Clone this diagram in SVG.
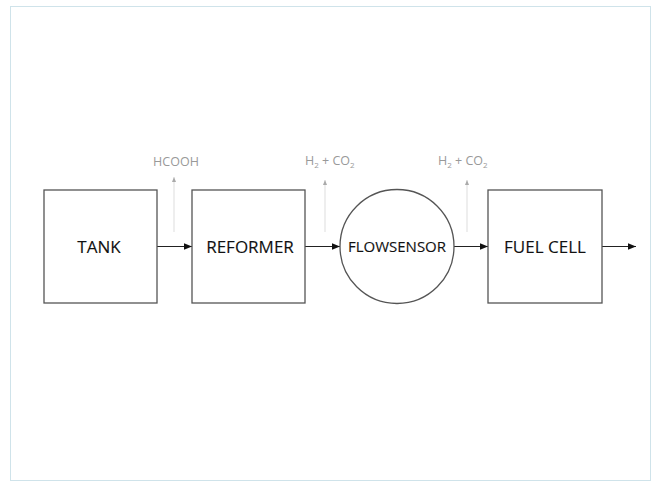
<svg xmlns="http://www.w3.org/2000/svg" width="655" height="485" viewBox="0 0 655 485">
<defs>
<style>
.box{fill:#fff;stroke:#555;stroke-width:1.3}
.lbl{font-family:"Open Sans","Liberation Sans",sans-serif;font-size:17px;fill:#111;stroke:#111;stroke-width:0.12;text-anchor:middle}
.gas{font-family:"Open Sans","Liberation Sans",sans-serif;font-size:12.5px;fill:#999}
.flow{stroke:#222;stroke-width:1.2;fill:none;marker-end:url(#ah)}
.out{stroke:#ddd;stroke-width:1;fill:none;marker-end:url(#ahg)}
</style>
<marker id="ah" viewBox="0 0 10 10" refX="10" refY="5" markerWidth="8" markerHeight="8" markerUnits="userSpaceOnUse" orient="auto">
<path d="M0,1 L10,5 L0,9 z" fill="#111"/>
</marker>
<marker id="ahg" viewBox="0 0 10 10" refX="10" refY="5" markerWidth="5" markerHeight="5" markerUnits="userSpaceOnUse" orient="auto">
<path d="M0,1 L10,5 L0,9 z" fill="#aaa"/>
</marker>
</defs>
<rect x="0" y="0" width="655" height="485" fill="#fff"/>
<rect x="10.5" y="6.5" width="640" height="474" fill="#fff" stroke="#cfe3ea" stroke-width="1"/>
<g id="connectors">
<line class="flow" x1="157" y1="246.5" x2="192" y2="246.5"/>
<line class="flow" x1="305" y1="246.5" x2="340" y2="246.5"/>
<line class="flow" x1="454" y1="246.5" x2="488" y2="246.5"/>
<line class="flow" x1="602" y1="246.5" x2="636" y2="246.5"/>
<line class="out" x1="174" y1="232" x2="174" y2="177"/>
<line class="out" x1="325" y1="232" x2="325" y2="180"/>
<line class="out" x1="467" y1="232" x2="467" y2="180"/>
</g>
<g id="tank">
<rect class="box" x="44" y="190" width="113" height="113"/>
<text class="lbl" x="99" y="253">TANK</text>
</g>
<g id="reformer">
<rect class="box" x="192" y="190" width="113" height="113"/>
<text class="lbl" x="250" y="253">REFORMER</text>
</g>
<g id="flowsensor">
<circle class="box" cx="397" cy="246.5" r="57"/>
<text class="lbl" x="397" y="252" style="font-size:15px">FLOWSENSOR</text>
</g>
<g id="fuelcell">
<rect class="box" x="488" y="190" width="114" height="113"/>
<text class="lbl" x="545" y="253">FUEL CELL</text>
</g>
<g id="labels">
<text class="gas" x="176" y="166" text-anchor="middle">HCOOH</text>
<text class="gas" x="305" y="165">H<tspan dy="3" font-size="8">2</tspan><tspan dy="-3"> + CO</tspan><tspan dy="3" font-size="8">2</tspan></text>
<text class="gas" x="438" y="165">H<tspan dy="3" font-size="8">2</tspan><tspan dy="-3"> + CO</tspan><tspan dy="3" font-size="8">2</tspan></text>
</g>
</svg>
